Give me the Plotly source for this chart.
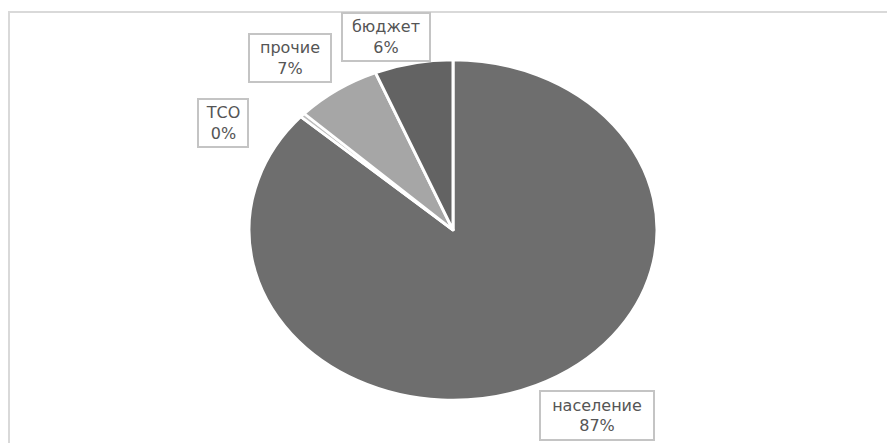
import plotly.graph_objects as go

categories = ["население", "ТСО", "прочие", "бюджет"]
values = [86.6, 0.4, 6.8, 6.2]
colors = ["#6e6e6e", "#bdbdbd", "#a6a6a6", "#636363"]

# label box centres and sizes (pixels in 887x443 canvas)
label_pos = {"население": (597, 415), "ТСО": (223, 123), "прочие": (290, 58), "бюджет": (386, 37)}
label_size = {"население": (112, 47), "ТСО": (48, 46), "прочие": (80, 46), "бюджет": (86, 46)}

W, H = 887, 443
total = sum(values)

fig = go.Figure()
fig.add_trace(go.Pie(
    labels=categories, values=values, sort=False, direction="clockwise", rotation=0,
    marker=dict(colors=colors, line=dict(color="white", width=2.5)),
    textinfo="none", hoverinfo="label+percent", showlegend=False,
    domain=dict(x=[283 / W, 623 / W], y=[(H - 400) / H, (H - 60) / H]),
))

for c, v in zip(categories, values):
    px, py = label_pos[c]
    bw, bh = label_size[c]
    fig.add_annotation(
        x=px / W, y=1 - py / H, xref="paper", yref="paper", showarrow=False,
        text=f"{c}<br>{round(v / total * 100)}%",
        font=dict(family="DejaVu Sans", size=16, color="#555555"),
        bordercolor="#c4c4c4", borderwidth=2, borderpad=0, bgcolor="white",
        width=bw, height=bh,
        xanchor="center", yanchor="middle", align="center", valign="middle",
    )

fig.add_shape(type="rect", xref="paper", yref="paper",
              x0=9 / W, x1=1.05, y0=-0.05, y1=1 - 12 / H,
              line=dict(color="#d9d9d9", width=2), layer="below")

fig.update_layout(width=W, height=H, margin=dict(l=0, r=0, t=0, b=0),
                  paper_bgcolor="white", plot_bgcolor="white")

post = """
document.body.style.margin = '0';
var g = document.querySelector('.pielayer');
if (g) { var b = g.getBBox(); var cx = b.x + b.width / 2;
  g.setAttribute('transform', 'translate(' + cx + ',0) scale(1.2,1) translate(' + (-cx) + ',0)'); }
"""
fig.write_html("out.html", post_script=post, config={"displayModeBar": False})
